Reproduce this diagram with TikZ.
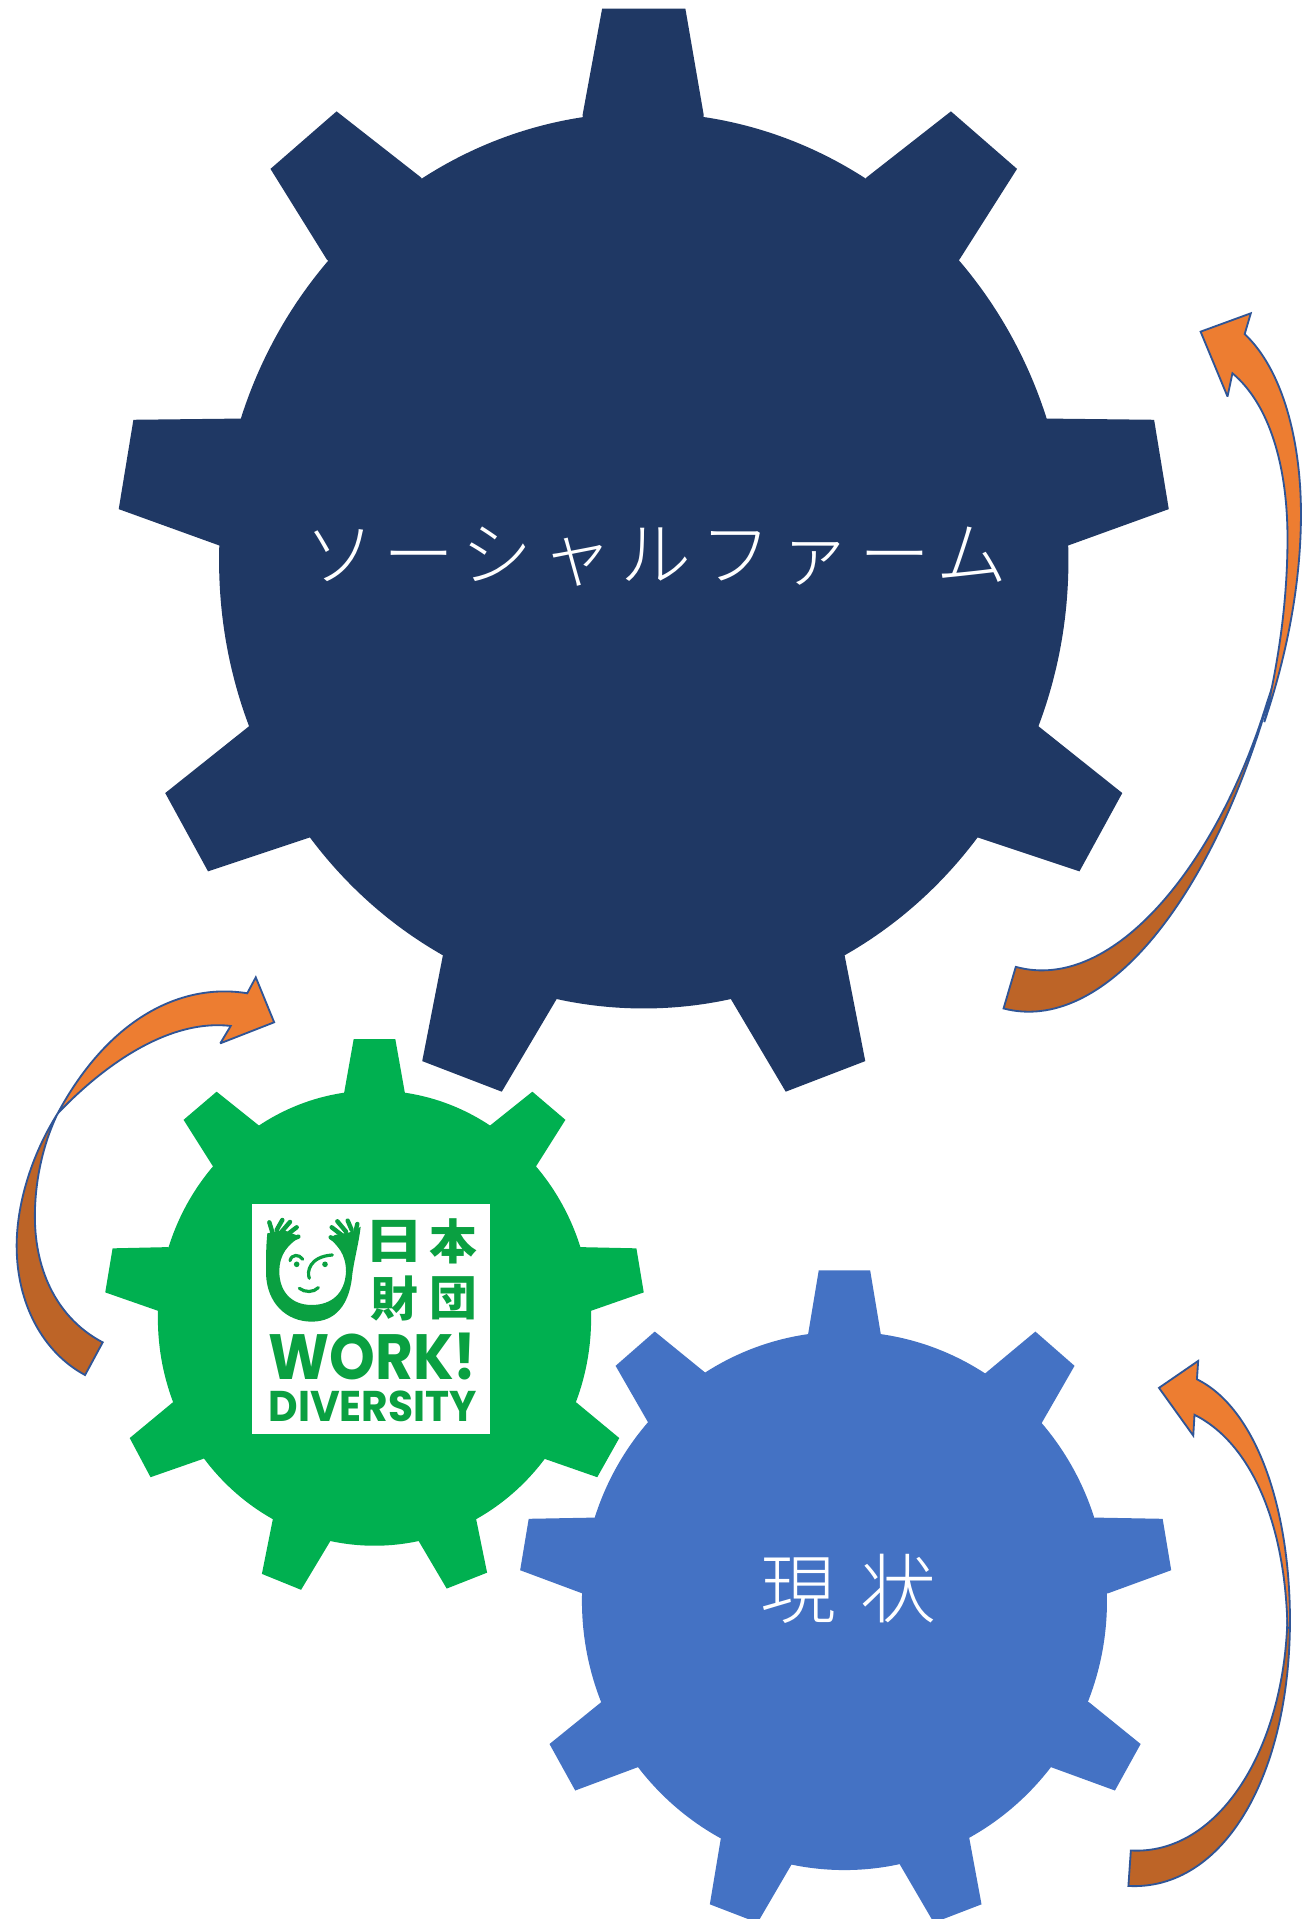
\documentclass[tikz,border=0pt]{standalone}
\usepackage{fontspec}
\usepackage{graphicx}
\setmainfont{Liberation Sans}
\newfontfamily\jp{Noto Sans CJK JP}
\newfontfamily\jpwide[LetterSpace=12,UprightFont={* Light}]{Noto Sans CJK JP}
\newfontfamily\jpwider[LetterSpace=32,UprightFont={* Light}]{Noto Sans CJK JP}
\newfontfamily\logofont{Poppins}
\definecolor{navygear}{HTML}{1F3864}
\definecolor{greengear}{HTML}{00B050}
\definecolor{bluegear}{HTML}{4472C4}
\definecolor{logogreen}{HTML}{0AA041}
\definecolor{arroworange}{HTML}{ED7D31}
\definecolor{arrowdark}{HTML}{BD6427}
\definecolor{arrowline}{HTML}{2F5597}
\tikzset{
  front/.style={fill=arroworange,draw=arrowline,line width=1.5pt,line join=miter,miter limit=3},
  back/.style={fill=arrowdark,draw=arrowline,line width=1.5pt,line join=miter,miter limit=3},
  finger/.style={draw=logogreen,line width=3.6pt,line cap=round},
  faceline/.style={draw=logogreen,line width=2.6pt,line cap=round},
  logokanji/.style={text=logogreen,inner sep=0pt,font=\jp\bfseries\fontsize{39}{39}\selectfont},
  logotext/.style={text=logogreen,inner sep=0pt,font=\logofont\bfseries},
}
% colour, centre, four corners of a tooth
\newcommand\gtooth[6]{\fill[#1] #3 -- #4 -- #5 -- #6 -- #2 -- cycle;}
\begin{document}
\begin{tikzpicture}[x=1pt,y=-1pt]
\useasboundingbox (0,0) rectangle (1072,1568);
\fill[white] (0,0) rectangle (1072,1568);

% navy gear
\def\gc{(526,458)}
\fill[navygear] \gc ellipse [x radius=347pt,y radius=366pt];
\gtooth{navygear}{\gc}{(476,94)}{(492,7)}{(560,7)}{(575,94)}
\gtooth{navygear}{\gc}{(708,145)}{(777,91)}{(831,138)}{(784,212)}
\gtooth{navygear}{\gc}{(855,342)}{(943,343)}{(955,416)}{(872,446)}
\gtooth{navygear}{\gc}{(848,593)}{(917,648)}{(882,712)}{(798,684)}
\gtooth{navygear}{\gc}{(690,780)}{(707,867)}{(642,892)}{(597,816)}
\gtooth{navygear}{\gc}{(455,816)}{(410,892)}{(345,867)}{(362,780)}
\gtooth{navygear}{\gc}{(254,684)}{(170,712)}{(135,648)}{(204,593)}
\gtooth{navygear}{\gc}{(180,446)}{(97,416)}{(109,343)}{(197,342)}
\gtooth{navygear}{\gc}{(267,212)}{(221,138)}{(275,91)}{(344,145)}
\node[text=white,inner sep=0pt,font=\jpwide\fontsize{58}{58}\selectfont] (farm) at (536,455) {ソーシャルファーム};

% green gear
\def\gc{(306,1077)}
\fill[greengear] \gc ellipse [x radius=177pt,y radius=186pt];
\gtooth{greengear}{\gc}{(281,894)}{(289,849)}{(323,849)}{(331,894)}
\gtooth{greengear}{\gc}{(400,920)}{(435,892)}{(462,915)}{(438,953)}
\gtooth{greengear}{\gc}{(474,1019)}{(520,1020)}{(526,1056)}{(483,1071)}
\gtooth{greengear}{\gc}{(471,1146)}{(506,1175)}{(488,1207)}{(445,1192)}
\gtooth{greengear}{\gc}{(389,1241)}{(398,1285)}{(365,1298)}{(342,1259)}
\gtooth{greengear}{\gc}{(270,1259)}{(246,1299)}{(214,1286)}{(223,1241)}
\gtooth{greengear}{\gc}{(166,1192)}{(123,1207)}{(106,1175)}{(141,1146)}
\gtooth{greengear}{\gc}{(129,1071)}{(86,1056)}{(92,1020)}{(137,1019)}
\gtooth{greengear}{\gc}{(174,953)}{(150,915)}{(177,892)}{(212,920)}

% logo
\fill[white] (206,984) rectangle (400.4,1171.7);
\begin{scope}[shift={(196.1,972.3)},x=0.2724pt,y=-0.2724pt]
  \fill[logogreen] (82,130) .. controls (78,170) and (78,200) .. (78,250)
     .. controls (80,340) and (140,395) .. (215,395)
     .. controls (290,395) and (325,340) .. (335,270)
     .. controls (340,215) and (355,170) .. (362,110)
     -- (340,125) -- (285,135) -- (268,145)
     .. controls (290,165) and (318,190) .. (318,245)
     .. controls (315,310) and (275,345) .. (215,345)
     .. controls (150,345) and (118,300) .. (118,245)
     .. controls (118,190) and (145,165) .. (180,140)
     -- (130,120) -- cycle;
  \foreach \pa/\pb/\qa/\qb in {98/130/88/97,110/120/127/90,125/125/150/96,140/135/170/112,150/150/175/140,
                     345/130/352/102,335/120/323/92,318/125/292/94,305/135/275/112,295/155/272/142}
    \draw[finger] (\pa,\pb) -- (\qa,\qb);
  \draw[faceline] (150,212) .. controls (155,192) and (178,192) .. (188,208);
  \draw[faceline] (208,265) .. controls (200,245) and (208,200) .. (277,195);
  \draw[faceline] (178,295) .. controls (195,308) and (220,308) .. (235,293);
  \fill[logogreen] (170,223) circle [radius=2.3pt];
  \fill[logogreen] (255,223) circle [radius=2.3pt];
  \node[logokanji] (nichi) at (463,153) {\scalebox{1.25}[1]{日}};
  \node[logokanji] (hon) at (639,153) {本};
  \node[logokanji] (zai) at (463,326) {財};
  \node[logokanji] (dan) at (639,326) {団};
  \node[logotext,anchor=south west] (work) at (85,570) {\resizebox{170pt}{38pt}{WORK!}};
  \node[logotext,anchor=south west] (diversity) at (85,695) {\resizebox{170pt}{25pt}{DIVERSITY}};
\end{scope}

% blue gear
\def\gc{(690,1308)}
\fill[bluegear] \gc ellipse [x radius=214.5pt,y radius=220pt];
\gtooth{bluegear}{\gc}{(660,1092)}{(669,1038)}{(711,1038)}{(720,1092)}
\gtooth{bluegear}{\gc}{(804,1123)}{(846,1088)}{(878,1116)}{(851,1163)}
\gtooth{bluegear}{\gc}{(895,1240)}{(950,1241)}{(957,1283)}{(905,1302)}
\gtooth{bluegear}{\gc}{(890,1391)}{(932,1425)}{(911,1463)}{(859,1444)}
\gtooth{bluegear}{\gc}{(792,1502)}{(802,1556)}{(763,1571)}{(735,1523)}
\gtooth{bluegear}{\gc}{(647,1523)}{(619,1571)}{(580,1556)}{(589,1502)}
\gtooth{bluegear}{\gc}{(521,1444)}{(470,1463)}{(449,1425)}{(491,1391)}
\gtooth{bluegear}{\gc}{(476,1302)}{(425,1283)}{(432,1241)}{(486,1240)}
\gtooth{bluegear}{\gc}{(530,1163)}{(503,1116)}{(535,1088)}{(578,1123)}
\node[text=white,inner sep=0pt,font=\jpwider\fontsize{62}{62}\selectfont] (now) at (693,1298) {現状};

% arrow, top right
\fill[back] (820,824) .. controls (900,845) and (990,740) .. (1040,560)
   -- (1035,575) .. controls (995,705) and (910,812) .. (830,790) -- cycle;
\fill[front] (1017,273) .. controls (1048,302) and (1063,360) .. (1063,420)
   .. controls (1063,480) and (1050,540) .. (1033,590)
   .. controls (1045,540) and (1052,490) .. (1052,440)
   .. controls (1052,380) and (1037,330) .. (1007,305)
   -- (1003,324) -- (981,271) -- (1022,256) -- cycle;

% arrow, left
\fill[back] (47,910) .. controls (25,945) and (13.6,985) .. (13.6,1018)
   .. controls (13.6,1065) and (35,1105) .. (69.5,1123.5)
   -- (83.9,1096.8) .. controls (48,1078) and (28.5,1040) .. (28.5,994)
   .. controls (28.5,965) and (35,935) .. (47,910) -- cycle;
\fill[front] (202,811.6) .. controls (150,803) and (90,830) .. (47,910)
   .. controls (80,875) and (135,832) .. (188.5,838.3)
   -- (180,852.5) -- (224,835.3) -- (209,798.6) -- cycle;

% arrow, bottom right
\fill[back] (1054,1320) .. controls (1055,1450) and (1000,1545) .. (922,1541)
   -- (924,1512) .. controls (995,1516) and (1050,1430) .. (1052,1320) -- cycle;
\fill[front] (978,1127) .. controls (1025,1150) and (1055,1230) .. (1054,1330)
   -- (1052,1330) .. controls (1050,1240) and (1020,1178) .. (976,1156)
   -- (975,1173) -- (947,1134) -- (979,1112) -- cycle;
\end{tikzpicture}
\end{document}
